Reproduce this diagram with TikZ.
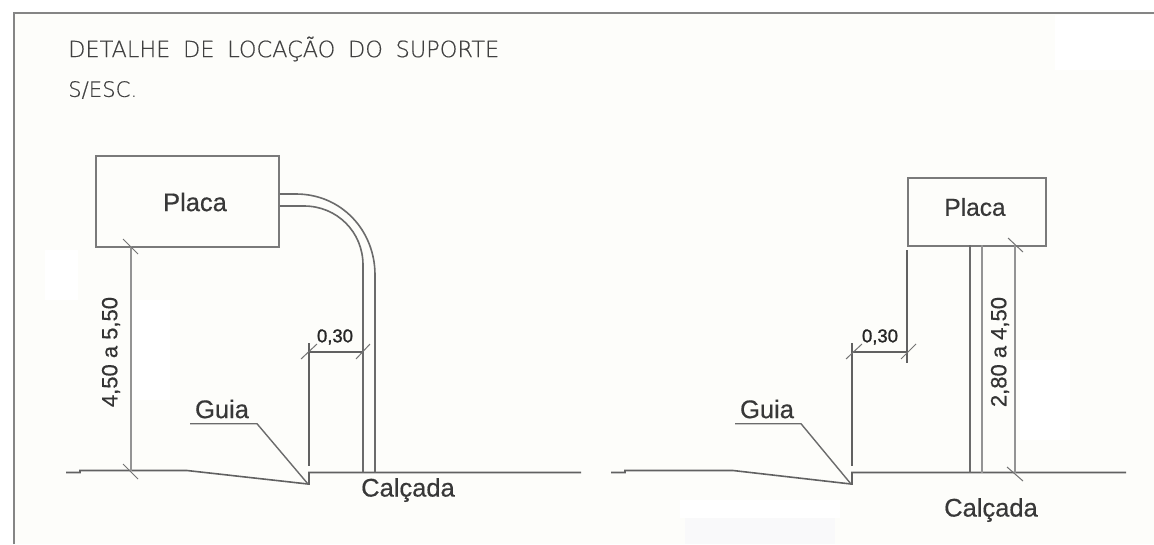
\documentclass[tikz,border=0pt]{standalone}
\usepackage{fontspec}
\setmainfont{Liberation Sans}
\newfontfamily\cadfont{DejaVu Sans ExtraLight}[RawFeature={embolden=0.5}]
\newfontfamily\labfont{Liberation Sans}[RawFeature={embolden=0.5}]
\newfontfamily\smallfont{Liberation Sans}[RawFeature={embolden=1.2}]
\begin{document}
\begin{tikzpicture}[x=1pt,y=-1pt,
  line/.style={draw=black!62,line width=1.6pt},
  post/.style={draw=black!58,line width=1.6pt},
  dimline/.style={draw=black!42,line width=2pt},
  tick/.style={draw=black!55,line width=1pt},
  leader/.style={draw=black!58,line width=1.4pt},
  boxstyle/.style={draw=black!52,line width=1.9pt,inner sep=0pt,anchor=north west},
  lab/.style={text=black!78,inner sep=0pt,font=\labfont\fontsize{25.5}{28}\selectfont},
  dimlab/.style={text=black!80,inner sep=0pt,rotate=90,font=\labfont\fontsize{22}{26}\selectfont},
  small/.style={text=black!85,inner sep=0pt,font=\smallfont\fontsize{18.5}{22}\selectfont},
  cad/.style={text=black!75,inner sep=0pt,anchor=west}]
\useasboundingbox (0,0) rectangle (1154,544);
\fill[white] (0,0) rectangle (1154,544);
% paper
\fill[fill={rgb,255:red,253;green,253;blue,250}] (14,13) rectangle (1154,544);
\fill[white] (1055,15) rectangle (1154,70);
\fill[white] (45,250) rectangle (78,300);
\fill[white] (130,300) rectangle (170,400);
\fill[white] (1020,360) rectangle (1070,440);
\fill[white] (680,500) rectangle (840,518);
\fill[fill={rgb,255:red,249;green,249;blue,250}] (685,518) rectangle (835,544);
% frame
\coordinate (fb) at (14,544);
\coordinate (fc) at (14,13);
\coordinate (fr) at (1154,13);
\draw[draw=black!48,line width=2pt] (fb) -- (fc) -- (fr);
% title
\node[cad] (t1) at (68,49) {\resizebox{431pt}{!}{\cadfont\fontsize{24}{28}\selectfont DETALHE\hspace{.25em} DE\hspace{.25em} LOCAÇÃO\hspace{.25em} DO\hspace{.25em} SUPORTE}};
\node[cad] (t2) at (68,90) {\resizebox{69pt}{!}{\cadfont\fontsize{22}{26}\selectfont S/ESC.}};

% ---- left detail
\node[boxstyle,minimum width=183pt,minimum height=91pt] (pl) at (95,155) {};
\node[lab] (pltxt) at (195,202) {Placa};
\coordinate (go1) at (66,472.5);
\coordinate (go2) at (80,472.5);
\coordinate (go3) at (80,470.5);
\coordinate (go4) at (187,470.5);
\coordinate (go5) at (308,484);
\coordinate (go6) at (309,484);
\coordinate (go7) at (309,472.5);
\coordinate (go8) at (581,472.5);
\draw[line] (go1) -- (go2) -- (go3) -- (go4) -- (go5) -- (go6) -- (go7) -- (go8);
% bent post
\coordinate (oa) at (pl.east |- 0,194);
\coordinate (ob) at (296,194);
\coordinate (oc) at (375,275);
\coordinate (od) at (375,472.5);
\coordinate (ia) at (pl.east |- 0,206);
\coordinate (ib) at (304,206);
\coordinate (ic) at (363,265);
\coordinate (id) at (363,472.5);
\draw[post] (oa) -- (ob) .. controls (341,194) and (375,230) .. (oc) -- (od);
\draw[post] (ia) -- (ib) .. controls (337,206) and (363,232) .. (ic) -- (id);
% height dim
\coordinate (h1) at (130.5,246);
\coordinate (h2) at (130.5,470.5);
\draw[dimline] (h1) -- (h2);
\draw[tick] (123,239) -- (138,254);
\draw[tick] (123,464) -- (138,479);
\node[dimlab] (hl) at (111,352) {4,50 a 5,50};
% 0,30 dim
\coordinate (e1) at (309,343);
\coordinate (e2) at (309,466);
\draw[line] (e1) -- (e2);
\coordinate (d1) at (309,352);
\coordinate (d2) at (363,352);
\draw[line,line width=1.4pt] (d1) -- (d2);
\draw[tick] (301,359) -- (317,344);
\draw[tick] (356,359) -- (370,344);
\node[small] (d03) at (335,337) {0,30};
% guia
\node[lab] (g1) at (222,409) {Guia};
\coordinate (la) at (190,423.7);
\coordinate (lb) at (257,423.7);
\draw[leader] (la) -- (lb) -- (go5);
\node[lab] (c1) at (408,490) {Calçada};

% ---- right detail
\node[boxstyle,minimum width=138pt,minimum height=68pt] (pr) at (907,177) {};
\node[lab,font=\labfont\fontsize{24.5}{28}\selectfont] (prtxt) at (975,207) {Placa};
\coordinate (gr1) at (611,472.5);
\coordinate (gr2) at (625,472.5);
\coordinate (gr3) at (625,470.5);
\coordinate (gr4) at (733,470.5);
\coordinate (gr5) at (851,484);
\coordinate (gr6) at (852,484);
\coordinate (gr7) at (852,472.5);
\coordinate (gr8) at (1126,472.5);
\draw[line] (gr1) -- (gr2) -- (gr3) -- (gr4) -- (gr5) -- (gr6) -- (gr7) -- (gr8);
% straight post
\coordinate (p1a) at (970,245);
\coordinate (p1b) at (970,472.5);
\coordinate (p2a) at (981.5,245);
\coordinate (p2b) at (981.5,472.5);
\draw[post] (p1a) -- (p1b);
\draw[dimline] (p2a) -- (p2b);
% height dim
\coordinate (k1) at (1015,245);
\coordinate (k2) at (1015,472.5);
\draw[dimline] (k1) -- (k2);
\draw[tick] (1008,238) -- (1023,252);
\draw[tick] (1007,467) -- (1023,481);
\node[dimlab] (kl) at (1000,352) {2,80 a 4,50};
% 0,30 dim
\coordinate (m1) at (852,343);
\coordinate (m2) at (852,466);
\draw[line] (m1) -- (m2);
\coordinate (n1) at (907,250);
\coordinate (n2) at (907,363);
\draw[line] (n1) -- (n2);
\coordinate (q1) at (852,352);
\coordinate (q2) at (907,352);
\draw[line,line width=1.4pt] (q1) -- (q2);
\draw[tick] (846,359) -- (862,344);
\draw[tick] (901,359) -- (916,344);
\node[small] (q03) at (880,337) {0,30};
% guia
\node[lab] (g2) at (767,409) {Guia};
\coordinate (ra) at (735,423.7);
\coordinate (rb) at (801,423.7);
\draw[leader] (ra) -- (rb) -- (gr5);
\node[lab] (c2) at (991,510) {Calçada};
\end{tikzpicture}
\end{document}
